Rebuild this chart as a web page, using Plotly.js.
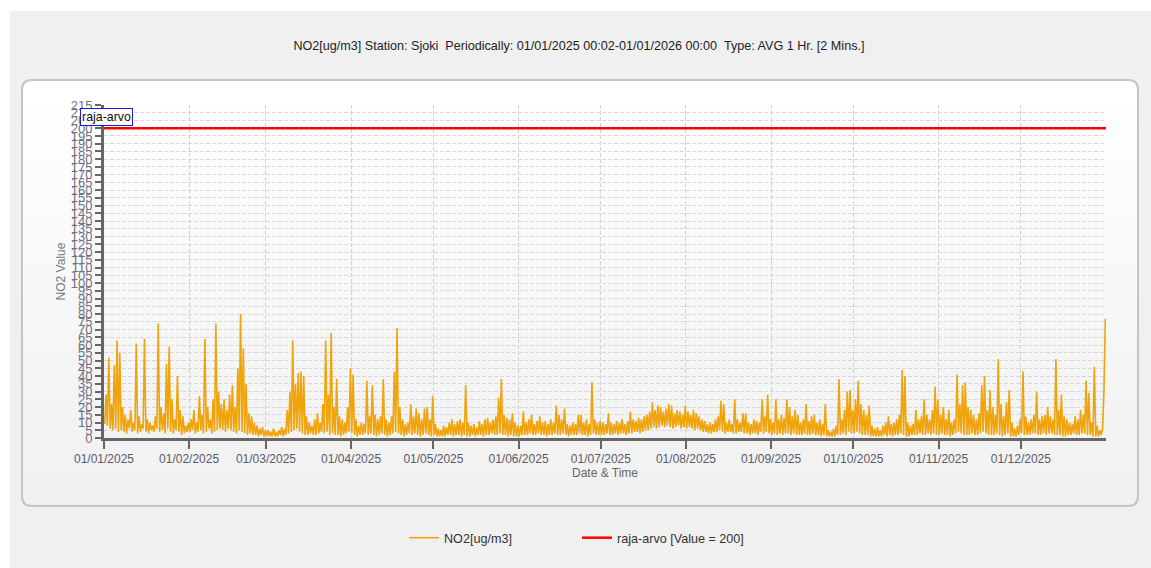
<!DOCTYPE html>
<html><head><meta charset="utf-8">
<script src="https://cdn.plot.ly/plotly-3.0.1.min.js"></script>
<style>html,body{margin:0;padding:0;background:#fff;}#chart{width:1151px;height:568px;}</style>
</head><body><div id="chart"></div>
<script>
// ---- data ----
const monthStarts = ['2025-01-01','2025-02-01','2025-03-01','2025-04-01','2025-05-01','2025-06-01',
                     '2025-07-01','2025-08-01','2025-09-01','2025-10-01','2025-11-01','2025-12-01'];
const tickLabels = ['01/01/2025','01/02/2025','01/03/2025','01/04/2025','01/05/2025','01/06/2025',
                    '01/07/2025','01/08/2025','01/09/2025','01/10/2025','01/11/2025','01/12/2025'];
const rangeEnd = '2026-01-01';

// daily maxima (ug/m3)
const maxJan = [28,52,22,47,63,55,20,15,12,18,10,61,14,9,64,12,10,8,14,74,20,16,48,59,25,12,40,18,14,8,10];
const maxFeb = [12,18,10,27,15,64,20,12,25,74,30,22,25,18,28,34,20,45,80,58,35,16,14,10,8,6,7,5];
const maxMar = [5,4,6,4,5,7,6,18,30,63,35,42,43,40,14,10,8,12,16,10,22,63,28,68,20,38,14,12,10,20,45];
const maxApr = [41,12,8,10,9,37,14,34,15,12,14,38,12,10,14,43,71,20,12,9,10,22,14,19,16,12,19,20,12,27];
const maxMay = [9,6,5,8,7,10,12,9,11,12,10,34,10,8,9,7,11,9,12,13,10,12,14,26,38,15,13,12,16,10,8];
const maxJun = [8,17,10,12,15,9,11,14,10,11,9,12,10,21,15,12,19,9,8,10,9,15,15,10,12,9,36,12,10,11];
const maxJul = [10,9,16,10,9,11,10,12,9,11,17,12,11,13,12,14,15,17,23,18,21,20,17,19,22,21,16,18,17,15,21];
const maxAug = [17,15,18,16,14,12,11,9,10,9,12,14,24,22,10,12,9,25,12,10,16,16,10,9,12,11,10,25,14,28,12];
const maxSep = [10,25,12,15,13,25,20,14,18,15,10,12,22,11,14,15,10,12,9,22,5,4,6,8,38,12,18,30,31,18];
const maxOct = [25,37,22,18,15,21,8,6,7,5,8,10,14,9,10,12,15,44,40,10,8,9,18,12,14,25,15,12,18,33,25];
const maxNov = [15,20,12,18,10,12,41,22,34,36,20,18,15,12,16,34,40,18,31,20,15,51,22,14,23,31,10,6,8,12];
const maxDec = [43,14,10,12,15,30,12,14,15,20,14,12,51,18,28,14,12,10,9,14,12,18,15,37,29,10,46,8,5,6,77];

// daily minima (ug/m3)
const minJan = [9,8,6,5,6,4,5,4,3,6,4,5,3,4,6,4,3,5,4,6,4,5,3,6,4,3,5,4,2,3,4];
const minFeb = [4,5,3,4,5,3,4,6,3,4,5,6,5,4,6,5,4,3,5,4,3,2,3,2,2,1,2,1];
const minMar = [1,1,1,1,1,2,1,2,3,4,5,6,4,3,2,2,3,2,2,3,4,3,4,2,3,2,2,1,2,3,4];
const minApr = [3,2,1,2,2,3,2,3,2,1,2,3,2,1,2,3,4,3,2,1,2,3,2,3,2,1,2,3,2,1];
const minMay = [2,1,1,1,1,2,2,1,2,2,1,2,1,1,2,1,2,2,1,2,2,3,2,2,3,2,2,1,2,1,1];
const minJun = [1,2,2,2,3,2,2,3,2,2,1,2,2,3,2,2,3,2,1,2,2,2,3,2,2,1,2,3,2,2];
const minJul = [2,2,3,2,2,3,2,3,3,2,3,3,4,4,3,4,5,5,6,7,6,7,8,7,8,7,6,7,8,6,7];
const minAug = [6,7,6,5,6,5,4,4,3,3,4,4,5,4,3,4,4,3,3,4,4,3,3,2,3,3,2,4,3,4,3];
const minSep = [2,3,2,3,2,3,3,2,3,2,2,2,3,2,2,3,2,2,1,2,1,1,1,1,2,2,3,2,4,3];
const minOct = [3,4,3,2,2,2,1,1,1,1,1,2,1,2,1,2,2,3,2,1,1,2,2,2,3,2,2,3,2,3,2];
const minNov = [2,3,2,2,1,2,3,4,3,2,2,2,3,2,2,3,4,3,2,2,2,3,2,1,2,3,1,1,1,2];
const minDec = [3,2,2,2,3,3,2,2,3,2,3,3,2,2,2,1,1,2,2,3,2,2,3,3,2,2,1,1,1,2,30];

const LIMIT = 200;
const LIMIT_NAME = 'raja-arvo';

// ---- build series ----
const maxByMonth = [maxJan,maxFeb,maxMar,maxApr,maxMay,maxJun,maxJul,maxAug,maxSep,maxOct,maxNov,maxDec];
const minByMonth = [minJan,minFeb,minMar,minApr,minMay,minJun,minJul,minAug,minSep,minOct,minNov,minDec];
const pad = n => (n < 10 ? '0' : '') + n;
const xs = [], ys = [];
maxByMonth.forEach((mx, m) => {
  const mn = minByMonth[m];
  mx.forEach((v, i) => {
    const day = monthStarts[m].slice(0, 8) + pad(i + 1);
    xs.push(day + ' 06:00'); ys.push(mn[i]);
    xs.push(day + ' 18:00'); ys.push(v);
  });
});

// ---- geometry helpers (pixels -> paper) ----
const L = 104, T = 105, W = 1002, H = 333;
const px = x => (x - L) / W;
const py = y => 1 - (y - T) / H;
function roundRect(x0, y0, x1, y1, r) {
  return `M${px(x0 + r)},${py(y0)} L${px(x1 - r)},${py(y0)} Q${px(x1)},${py(y0)} ${px(x1)},${py(y0 + r)} ` +
         `L${px(x1)},${py(y1 - r)} Q${px(x1)},${py(y1)} ${px(x1 - r)},${py(y1)} ` +
         `L${px(x0 + r)},${py(y1)} Q${px(x0)},${py(y1)} ${px(x0)},${py(y1 - r)} ` +
         `L${px(x0)},${py(y0 + r)} Q${px(x0)},${py(y0)} ${px(x0 + r)},${py(y0)} Z`;
}
const shapes = [];
shapes.push({type:'rect', xref:'paper', yref:'paper', layer:'below',
  x0:px(10), x1:px(1160), y0:py(11), y1:py(575), fillcolor:'#f0f0f0', line:{width:0}});
const P = {x0:22, y0:80, x1:1138, y1:506, r:10};
shapes.push({type:'path', xref:'paper', yref:'paper', layer:'below',
  path: roundRect(P.x0, P.y0, P.x1, P.y1, P.r), fillcolor:'#ffffff', line:{width:0}});
const NB = 24, bandTop = P.y0 + P.r, bandBot = P.y1;
for (let k = 0; k < NB; k++) {
  const a = bandTop + (bandBot - bandTop) * k / NB, b = bandTop + (bandBot - bandTop) * (k + 1) / NB + 1;
  const c = Math.round(255 - (255 - 240) * (k + 0.5) / NB);
  shapes.push({type:'rect', xref:'paper', yref:'paper', layer:'below',
    x0:px(P.x0 + 1), x1:px(P.x1 - 1), y0:py(a), y1:py(b),
    fillcolor:`rgb(${c},${c},${c})`, line:{width:0}});
}
shapes.push({type:'path', xref:'paper', yref:'paper', layer:'below',
  path: roundRect(P.x0, P.y0, P.x1, P.y1, P.r), fillcolor:'rgba(0,0,0,0)', line:{color:'#c4c4c4', width:2}});

const FONT = 'Liberation Sans, Arial, sans-serif';
const traces = [
  {type:'scatter', mode:'lines', name:'NO2[ug/m3]', x: xs, y: ys,
   line:{color:'#f0a30a', width:1.6}, hoverinfo:'skip'},
  {type:'scatter', mode:'lines', name: LIMIT_NAME + ' [Value = ' + LIMIT + ']',
   x:[monthStarts[0], rangeEnd], y:[LIMIT, LIMIT],
   line:{color:'#ff0000', width:2.5}, hoverinfo:'skip'}
];

const layout = {
  width:1151, height:568,
  margin:{l:L, r:1151 - L - W, t:T, b:568 - T - H, pad:0},
  paper_bgcolor:'#ffffff', plot_bgcolor:'rgba(0,0,0,0)',
  font:{family:FONT, size:12, color:'#333'},
  title:{text:'NO2[ug/m3] Station: Sjoki\u00a0\u00a0Periodically: 01/01/2025 00:02-01/01/2026 00:00\u00a0\u00a0Type: AVG 1 Hr. [2 Mins.]',
         x:0.503, xref:'container', xanchor:'center', y:1 - 46/568, yref:'container', yanchor:'middle',
         font:{family:FONT, size:12.6, color:'#222'}},
  xaxis:{type:'date', range:[monthStarts[0], rangeEnd], tickmode:'array', tickvals:monthStarts, ticktext:tickLabels,
         showline:true, linecolor:'#666', linewidth:3, ticks:'outside', ticklen:8, tickwidth:2, tickcolor:'#666',
         showgrid:true, gridcolor:'#d2d2d2', griddash:'4px,2px', gridwidth:1, zeroline:false,
         tickfont:{family:FONT, size:12, color:'#5a5a6a'},
         title:{text:'Date & Time', font:{family:FONT, size:12, color:'#666'}, standoff:2}},
  yaxis:{range:[0,215], tick0:0, dtick:5, showline:true, linecolor:'#666', linewidth:3,
         ticks:'outside', ticklen:6, tickwidth:2, tickcolor:'#666',
         showgrid:true, gridcolor:'#d8d8d8', griddash:'4px,2px', gridwidth:1, zeroline:false,
         tickfont:{family:FONT, size:13, color:'#707084'},
         title:{text:'NO2 Value', font:{family:FONT, size:12, color:'#777'}, standoff:3}},
  showlegend:true,
  legend:{orientation:'h', x:px(404), xanchor:'left', y:py(538), yanchor:'middle',
          entrywidth:128, entrywidthmode:'pixels', bgcolor:'rgba(0,0,0,0)',
          font:{family:FONT, size:12.6, color:'#333'}},
  shapes: shapes,
  annotations:[{text:LIMIT_NAME, xref:'paper', yref:'paper', x:px(80), xanchor:'left', y:py(117), yanchor:'middle',
                showarrow:false, bgcolor:'#ffffff', bordercolor:'#1a1ad8', borderwidth:1, borderpad:1,
                font:{family:FONT, size:12.4, color:'#111'}}]
};
Plotly.newPlot('chart', traces, layout, {displayModeBar:false, staticPlot:true});
</script></body></html>
